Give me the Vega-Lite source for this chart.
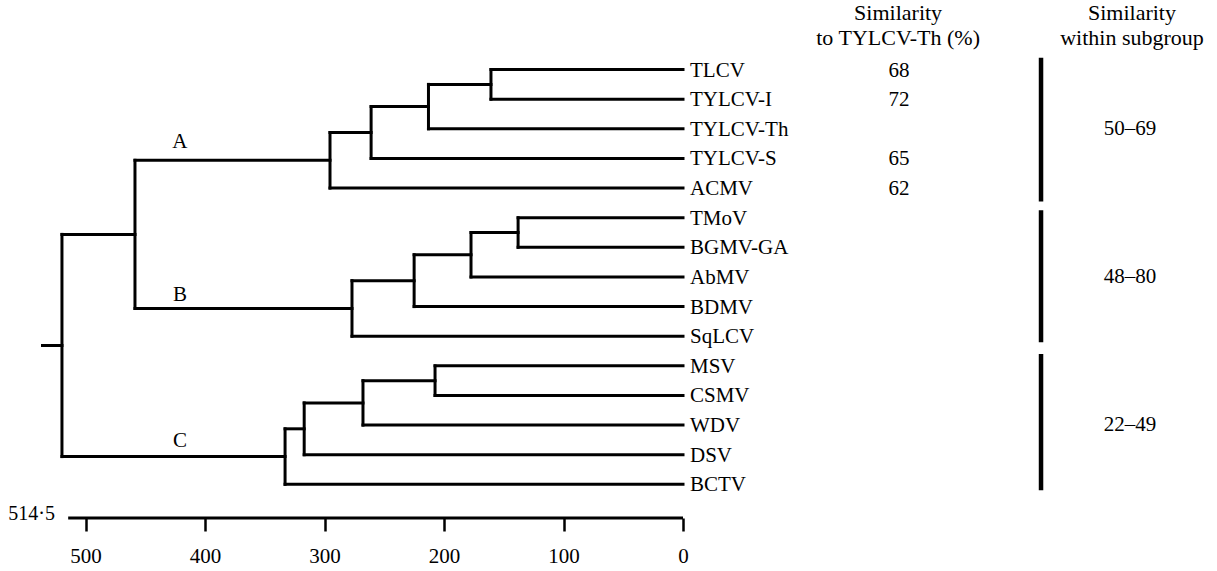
{
  "$schema": "https://vega.github.io/schema/vega-lite/v6.json",
  "width": 1217,
  "height": 518,
  "autosize": "none",
  "padding": {"left": 0, "right": 0, "top": 0, "bottom": 53},
  "background": "white",
  "config": {"font": "Liberation Serif", "view": {"stroke": null}, "text": {"font": "Liberation Serif", "color": "black"}},
  "datasets": {
    "segs": [
      {"x": 0, "x2": 160.7, "y": 0, "y2": 0},
      {"x": 0, "x2": 160.7, "y": 1, "y2": 1},
      {"x": 160.7, "x2": 213, "y": 0.5, "y2": 0.5},
      {"x": 0, "x2": 213, "y": 2, "y2": 2},
      {"x": 213, "x2": 261, "y": 1.25, "y2": 1.25},
      {"x": 0, "x2": 261, "y": 3, "y2": 3},
      {"x": 261, "x2": 295.4, "y": 2.125, "y2": 2.125},
      {"x": 0, "x2": 295.4, "y": 4, "y2": 4},
      {"x": 295.4, "x2": 458.6, "y": 3.0625, "y2": 3.0625},
      {"x": 0, "x2": 138, "y": 5, "y2": 5},
      {"x": 0, "x2": 138, "y": 6, "y2": 6},
      {"x": 138, "x2": 177.4, "y": 5.5, "y2": 5.5},
      {"x": 0, "x2": 177.4, "y": 7, "y2": 7},
      {"x": 177.4, "x2": 225, "y": 6.25, "y2": 6.25},
      {"x": 0, "x2": 225, "y": 8, "y2": 8},
      {"x": 225, "x2": 277, "y": 7.125, "y2": 7.125},
      {"x": 0, "x2": 277, "y": 9, "y2": 9},
      {"x": 277, "x2": 458.6, "y": 8.0625, "y2": 8.0625},
      {"x": 458.6, "x2": 519.7, "y": 5.5625, "y2": 5.5625},
      {"x": 0, "x2": 207.5, "y": 10, "y2": 10},
      {"x": 0, "x2": 207.5, "y": 11, "y2": 11},
      {"x": 207.5, "x2": 267.8, "y": 10.5, "y2": 10.5},
      {"x": 0, "x2": 267.8, "y": 12, "y2": 12},
      {"x": 267.8, "x2": 317, "y": 11.25, "y2": 11.25},
      {"x": 0, "x2": 317, "y": 13, "y2": 13},
      {"x": 317, "x2": 333, "y": 12.125, "y2": 12.125},
      {"x": 0, "x2": 333, "y": 14, "y2": 14},
      {"x": 333, "x2": 519.7, "y": 13.0625, "y2": 13.0625},
      {"x": 519.7, "x2": 536, "y": 9.3125, "y2": 9.3125},
      {"x": 160.7, "x2": 160.7, "y": 0, "y2": 1},
      {"x": 213, "x2": 213, "y": 0.5, "y2": 2},
      {"x": 261, "x2": 261, "y": 1.25, "y2": 3},
      {"x": 295.4, "x2": 295.4, "y": 2.125, "y2": 4},
      {"x": 138, "x2": 138, "y": 5, "y2": 6},
      {"x": 177.4, "x2": 177.4, "y": 5.5, "y2": 7},
      {"x": 225, "x2": 225, "y": 6.25, "y2": 8},
      {"x": 277, "x2": 277, "y": 7.125, "y2": 9},
      {"x": 458.6, "x2": 458.6, "y": 3.0625, "y2": 8.0625},
      {"x": 207.5, "x2": 207.5, "y": 10, "y2": 11},
      {"x": 267.8, "x2": 267.8, "y": 10.5, "y2": 12},
      {"x": 317, "x2": 317, "y": 11.25, "y2": 13},
      {"x": 333, "x2": 333, "y": 12.125, "y2": 14},
      {"x": 519.7, "x2": 519.7, "y": 5.5625, "y2": 13.0625}
    ],
    "leaves": [
      {"name": "TLCV", "r": 0, "sim": "68"},
      {"name": "TYLCV-I", "r": 1, "sim": "72"},
      {"name": "TYLCV-Th", "r": 2, "sim": ""},
      {"name": "TYLCV-S", "r": 3, "sim": "65"},
      {"name": "ACMV", "r": 4, "sim": "62"},
      {"name": "TMoV", "r": 5, "sim": ""},
      {"name": "BGMV-GA", "r": 6, "sim": ""},
      {"name": "AbMV", "r": 7, "sim": ""},
      {"name": "BDMV", "r": 8, "sim": ""},
      {"name": "SqLCV", "r": 9, "sim": ""},
      {"name": "MSV", "r": 10, "sim": ""},
      {"name": "CSMV", "r": 11, "sim": ""},
      {"name": "WDV", "r": 12, "sim": ""},
      {"name": "DSV", "r": 13, "sim": ""},
      {"name": "BCTV", "r": 14, "sim": ""}
    ],
    "groups": [
      {"label": "A", "x": 421, "r": 2.45},
      {"label": "B", "x": 421, "r": 7.62},
      {"label": "C", "x": 421, "r": 12.52}
    ],
    "bars": [
      {"y": -0.4, "y2": 4.45, "range": "50–69", "mid": 2},
      {"y": 4.75, "y2": 9.2, "range": "48–80", "mid": 7},
      {"y": 9.6, "y2": 14.2, "range": "22–49", "mid": 12}
    ],
    "headers": [
      {"text": "Similarity", "x": -180, "r": -1.9},
      {"text": "to TYLCV-Th (%)", "x": -180, "r": -1.07},
      {"text": "Similarity", "x": -375.7, "r": -1.9},
      {"text": "within subgroup", "x": -375.7, "r": -1.07}
    ],
    "scaleline": [
      {"x": 514.5, "x2": 0, "y": 15.135, "label": "514·5", "lx": 525.5, "ly": 15.0}
    ]
  },
  "layer": [
    {
      "data": {"name": "segs"},
      "mark": {"type": "rule", "strokeWidth": 3, "color": "black", "strokeCap": "square"},
      "encoding": {
        "x": {"field": "x", "type": "quantitative", "scale": {"domain": [-446.86, 571.55], "reverse": true, "nice": false, "zero": false}, "axis": {"values": [0, 100, 200, 300, 400, 500], "domain": false, "grid": false, "title": null, "tickSize": 13, "tickWidth": 2.5, "tickColor": "black", "labelFont": "Liberation Serif", "labelFontSize": 21, "labelColor": "black", "labelPadding": 14, "orient": "bottom"}},
        "x2": {"field": "x2"},
        "y": {"field": "y", "type": "quantitative", "scale": {"domain": [-2.348, 15.135], "reverse": true, "nice": false, "zero": false}, "axis": null},
        "y2": {"field": "y2"}
      }
    },
    {
      "data": {"name": "scaleline"},
      "mark": {"type": "rule", "strokeWidth": 3, "color": "black"},
      "encoding": {
        "x": {"field": "x", "type": "quantitative"},
        "x2": {"field": "x2"},
        "y": {"field": "y", "type": "quantitative"}
      }
    },
    {
      "data": {"name": "scaleline"},
      "mark": {"type": "text", "font": "Liberation Serif", "fontSize": 20, "align": "right", "baseline": "middle"},
      "encoding": {
        "x": {"field": "lx", "type": "quantitative"},
        "y": {"field": "ly", "type": "quantitative"},
        "text": {"field": "label"}
      }
    },
    {
      "data": {"name": "leaves"},
      "mark": {"type": "text", "font": "Liberation Serif", "fontSize": 21, "align": "left", "baseline": "middle", "dx": 7, "dy": 1},
      "encoding": {
        "x": {"datum": 0, "type": "quantitative"},
        "y": {"field": "r", "type": "quantitative"},
        "text": {"field": "name"}
      }
    },
    {
      "data": {"name": "leaves"},
      "mark": {"type": "text", "font": "Liberation Serif", "fontSize": 21, "align": "center", "baseline": "middle", "dy": 1},
      "encoding": {
        "x": {"datum": -180.7, "type": "quantitative"},
        "y": {"field": "r", "type": "quantitative"},
        "text": {"field": "sim"}
      }
    },
    {
      "data": {"name": "groups"},
      "mark": {"type": "text", "font": "Liberation Serif", "fontSize": 21, "align": "center", "baseline": "middle"},
      "encoding": {
        "x": {"field": "x", "type": "quantitative"},
        "y": {"field": "r", "type": "quantitative"},
        "text": {"field": "label"}
      }
    },
    {
      "data": {"name": "bars"},
      "mark": {"type": "rule", "strokeWidth": 4.5, "color": "black"},
      "encoding": {
        "x": {"datum": -299.6, "type": "quantitative"},
        "y": {"field": "y", "type": "quantitative"},
        "y2": {"field": "y2"}
      }
    },
    {
      "data": {"name": "bars"},
      "mark": {"type": "text", "font": "Liberation Serif", "fontSize": 21, "align": "center", "baseline": "middle"},
      "encoding": {
        "x": {"datum": -374, "type": "quantitative"},
        "y": {"field": "mid", "type": "quantitative"},
        "text": {"field": "range"}
      }
    },
    {
      "data": {"name": "headers"},
      "mark": {"type": "text", "font": "Liberation Serif", "fontSize": 22, "align": "center", "baseline": "middle"},
      "encoding": {
        "x": {"field": "x", "type": "quantitative"},
        "y": {"field": "r", "type": "quantitative"},
        "text": {"field": "text"}
      }
    }
  ]
}
